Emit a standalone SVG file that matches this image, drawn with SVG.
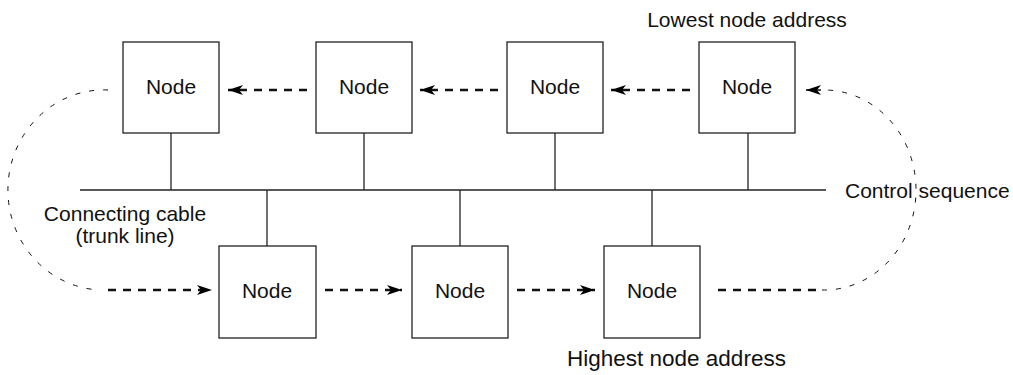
<svg xmlns="http://www.w3.org/2000/svg" width="1013" height="375" viewBox="0 0 1013 375">
<style>
.box{fill:#fff;stroke:#222;stroke-width:1.3}
.ln{fill:none;stroke:#222;stroke-width:1.3}
.bold{fill:none;stroke:#111;stroke-width:2.4;stroke-dasharray:8 7}
.thin{fill:none;stroke:#111;stroke-width:1;stroke-dasharray:5 9}
text{font-family:"Liberation Sans",Arial,Helvetica,sans-serif;font-size:21px;fill:#111}
.c{text-anchor:middle}
</style>
<defs>
<marker id="ah" markerUnits="userSpaceOnUse" markerWidth="18" markerHeight="12" refX="15" refY="5.5" orient="auto">
<path d="M0,0.5 L15,5.5 L0,10.5 L4,5.5 z" fill="#000"/>
</marker>
</defs>
<g id="connectors">
<line class="ln" x1="80" y1="190" x2="826" y2="190"/>
<line class="ln" x1="171" y1="133" x2="171" y2="190"/>
<line class="ln" x1="364" y1="133" x2="364" y2="190"/>
<line class="ln" x1="555" y1="133" x2="555" y2="190"/>
<line class="ln" x1="748" y1="133" x2="748" y2="190"/>
<line class="ln" x1="267" y1="190" x2="267" y2="246"/>
<line class="ln" x1="460" y1="190" x2="460" y2="246"/>
<line class="ln" x1="652" y1="190" x2="652" y2="246"/>
<path class="bold" d="M307,90 L228,90" marker-end="url(#ah)"/>
<path class="bold" d="M498,90 L420,90" marker-end="url(#ah)"/>
<path class="bold" d="M690,90 L611,90" marker-end="url(#ah)"/>
<path class="bold" d="M108,290 L212,290" marker-end="url(#ah)"/>
<path class="bold" d="M325,290 L402,290" marker-end="url(#ah)"/>
<path class="bold" d="M517,290 L595,290" marker-end="url(#ah)"/>
<path class="bold" d="M718,290 L818,290"/>
<path class="thin" d="M108,90 A96,100 0 0 0 100,290"/>
<path class="thin" d="M822,290 A92,100 0 0 0 826,90"/>
<path fill="none" stroke="#111" stroke-width="1.5" d="M821,90 L806,90" marker-end="url(#ah)"/>
</g>
<g id="node1"><rect class="box" x="123" y="42" width="96" height="91"/><text class="c" x="171" y="94">Node</text></g>
<g id="node2"><rect class="box" x="316" y="42" width="96" height="91"/><text class="c" x="364" y="94">Node</text></g>
<g id="node3"><rect class="box" x="507" y="42" width="96" height="91"/><text class="c" x="555" y="94">Node</text></g>
<g id="node4"><rect class="box" x="699" y="42" width="96" height="91"/><text class="c" x="747" y="94">Node</text></g>
<g id="node5"><rect class="box" x="219" y="246" width="97" height="92"/><text class="c" x="267" y="298">Node</text></g>
<g id="node6"><rect class="box" x="412" y="246" width="96" height="92"/><text class="c" x="460" y="298">Node</text></g>
<g id="node7"><rect class="box" x="604" y="246" width="96" height="92"/><text class="c" x="652" y="298">Node</text></g>
<g id="labels">
<text class="c" x="747" y="27">Lowest node address</text>
<text x="567" y="366" style="font-size:22.5px">Highest node address</text>
<text x="845" y="198">Control sequence</text>
<text class="c" x="125" y="221">Connecting cable</text>
<text class="c" x="125" y="243">(trunk line)</text>
</g>
</svg>
